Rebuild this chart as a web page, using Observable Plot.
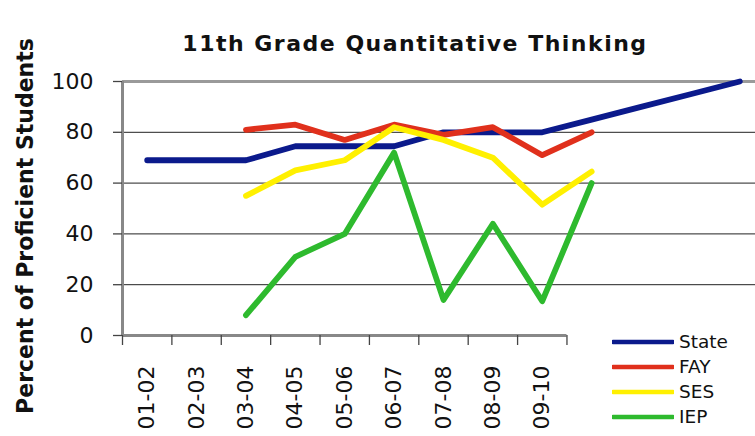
<!DOCTYPE html>
<html>
<head>
<meta charset="utf-8">
<script src="https://cdn.jsdelivr.net/npm/d3@7"></script>
<script src="https://cdn.jsdelivr.net/npm/@observablehq/plot@0.6"></script>
<style>
  html, body { margin: 0; padding: 0; background: #fff; overflow: hidden; }
  #wrap { position: relative; width: 755px; height: 436px; overflow: hidden; background: #fff; font-family: "DejaVu Sans", Verdana, sans-serif; }
  #chart svg { display: block; }
  #title { position: absolute; left: 0; width: 830px; top: 33px; text-align: center; font-weight: bold; font-size: 22px; line-height: 22px; letter-spacing: 1.5px; color: #111; white-space: nowrap; }
  #ytitle { position: absolute; left: -175px; top: 215px; width: 400px; height: 22px; line-height: 22px; text-align: center; font-weight: bold; font-size: 22px; color: #111; transform: rotate(-90deg) scaleY(1.08); transform-origin: 50% 50%; white-space: nowrap; }
  #legend { position: absolute; left: 612px; top: 329px; }
  .lg-row { display: flex; align-items: center; height: 25px; }
  .lg-row span { font-size: 18.5px; margin-left: 5px; color: #111; line-height: 25px; }
</style>
</head>
<body>
<div id="wrap">
  <div id="chart"></div>
  <div id="title">11th Grade Quantitative Thinking</div>
  <div id="ytitle">Percent of Proficient Students</div>
  <div id="legend"></div>
</div>
<script>
// ---- data ----
const categories = ["01-02","02-03","03-04","04-05","05-06","06-07","07-08","08-09","09-10","10-11","11-12","12-13","13-14"];
const axisLabels = ["01-02","02-03","03-04","04-05","05-06","06-07","07-08","08-09","09-10"];
const yTicks = [0, 20, 40, 60, 80, 100];
const seriesNames = ["State", "FAY", "SES", "IEP"];
const seriesColors = ["#0B1A8C", "#E0301C", "#FFF000", "#2EBA2E"];
const stateValues = [69, 69, 69, 74.5, 74.5, 74.5, 80, 80, 80, 85, 90, 95, 100];
const fayValues   = [null, null, 81, 83, 77, 83, 79, 82, 71, 80, null, null, null];
const sesValues   = [null, null, 55, 65, 69, 82, 77, 70, 51.5, 64.5, null, null, null];
const iepValues   = [null, null, 8, 31, 40, 72, 14, 44, 13.5, 60, null, null, null];
const seriesValues = [stateValues, fayValues, sesValues, iepValues];

// ---- layout ----
const W = 755, H = 436;
const mLeft = 122, mTop = 81, mBottom = 101, mRight = -9;
const step = (W - mRight - mLeft) / categories.length;

const rowsFor = (vals) => categories.map((c, i) => ({cat: c, v: vals[i]})).filter(d => d.v != null);

const lineMarks = seriesValues.map((vals, k) =>
  Plot.line(rowsFor(vals), {
    x: "cat", y: "v",
    stroke: seriesColors[k], strokeWidth: 5.8,
    strokeLinejoin: "round", strokeLinecap: "round"
  })
);

const firstCat = categories[0];
const lastAxisCat = categories[axisLabels.length];

const chart = Plot.plot({
  width: W, height: H,
  marginLeft: mLeft, marginRight: mRight, marginTop: mTop, marginBottom: mBottom,
  style: {fontFamily: "DejaVu Sans, Verdana, sans-serif", background: "white", color: "#111"},
  x: {type: "point", domain: categories, padding: 0.5, round: false, label: null},
  y: {domain: [0, 100], label: null},
  marks: [
    Plot.gridY(yTicks.filter(t => t > 0 && t < 100), {stroke: "#222", strokeOpacity: 1, strokeWidth: 1}),
    Plot.ruleY([100], {stroke: "#9a9a9a", strokeWidth: 3}),
    Plot.ruleY([0], {x1: () => firstCat, x2: () => lastAxisCat, dx: -step / 2, stroke: "#888", strokeWidth: 3}),
    Plot.ruleX([firstCat], {x: d => d, y1: () => 0, y2: () => 100, dx: -step / 2, stroke: "#888", strokeWidth: 3}),
    Plot.axisX(categories.slice(0, axisLabels.length + 1), {tickSize: 10, tickFormat: () => "", dx: -step / 2, stroke: "#444", strokeWidth: 1.3, label: null}),
    Plot.axisX(axisLabels, {tickSize: 0, tickPadding: 30, tickRotate: -90, fontSize: 22, fill: "#111", label: null}),
    Plot.axisY(yTicks, {tickSize: 9, tickPadding: 20, fontSize: 22, fill: "#111", stroke: "#444", strokeWidth: 1.3, label: null}),
    ...lineMarks
  ]
});
document.getElementById("chart").append(chart);

// ---- legend ----
const legend = document.getElementById("legend");
seriesNames.forEach((name, k) => {
  const row = document.createElement("div");
  row.className = "lg-row";
  row.innerHTML = `<svg width="62" height="8"><line x1="1" y1="4" x2="61" y2="4" stroke="${seriesColors[k]}" stroke-width="4.5" stroke-linecap="round"/></svg><span>${name}</span>`;
  legend.append(row);
});
</script>
</body>
</html>
